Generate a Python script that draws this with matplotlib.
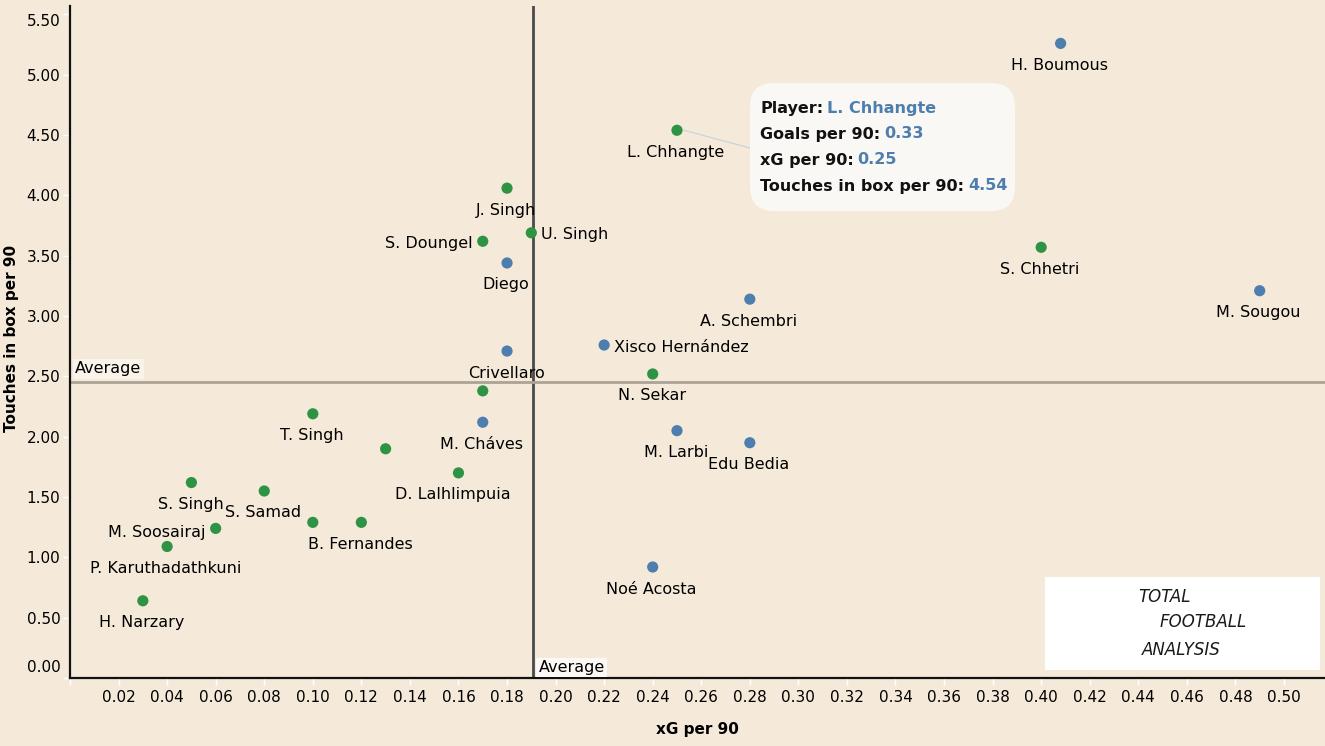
import matplotlib
matplotlib.use("Agg")
import matplotlib.pyplot as plt
from matplotlib.patches import FancyBboxPatch, Rectangle
from matplotlib.transforms import ScaledTranslation

# ---------------- data ----------------
players = ["H. Boumous", "L. Chhangte", "J. Singh", "U. Singh", "S. Doungel", "Diego",
           "S. Chhetri", "M. Sougou", "A. Schembri", "Xisco Hernández", "Crivellaro",
           "N. Sekar", "", "T. Singh", "M. Cháves", "", "D. Lalhlimpuia", "M. Larbi",
           "Edu Bedia", "S. Singh", "S. Samad", "M. Soosairaj", "", "B. Fernandes",
           "P. Karuthadathkuni", "H. Narzary", "Noé Acosta"]
xg_per90 = [0.408, 0.25, 0.18, 0.19, 0.17, 0.18,
            0.40, 0.49, 0.28, 0.22, 0.18,
            0.24, 0.17, 0.10, 0.17, 0.13, 0.16, 0.25,
            0.28, 0.05, 0.08, 0.06, 0.10, 0.12,
            0.04, 0.03, 0.24]
touches_per90 = [5.26, 4.54, 4.06, 3.69, 3.62, 3.44,
                 3.57, 3.21, 3.14, 2.76, 2.71,
                 2.52, 2.38, 2.19, 2.12, 1.90, 1.70, 2.05,
                 1.95, 1.62, 1.55, 1.24, 1.29, 1.29,
                 1.09, 0.64, 0.92]
group = ["B", "G", "G", "G", "G", "B",
         "G", "B", "B", "B", "B",
         "G", "G", "G", "B", "G", "G", "B",
         "B", "G", "G", "G", "G", "G",
         "G", "G", "B"]

avg_xg = 0.1905
avg_touches = 2.45

x_ticks = [round(0.02 * i, 2) for i in range(26)]
y_ticks = [0.5 * i for i in range(12)]

tooltip_player = "L. Chhangte"
tooltip_goals = "0.33"
tooltip_xg = "0.25"
tooltip_touches = "4.54"

# ---------------- style ----------------
BG = "#F5EADA"
colors = {"B": "#4E7EAE", "G": "#2E9444"}
W, H = 1325, 746
fig = plt.figure(figsize=(W / 100, H / 100), dpi=100, facecolor=BG)
ax = fig.add_axes([70 / W, 68 / H, (W - 70) / W, (678 - 6) / H])
ax.set_facecolor(BG)
ax.set_xlim(0, 0.5169)
ax.set_ylim(0, 5.57)

for s in ["top", "right"]:
    ax.spines[s].set_visible(False)
for s in ["left", "bottom"]:
    ax.spines[s].set_color("#111111")
    ax.spines[s].set_linewidth(1.6)

ax.set_xticks(x_ticks)
ax.set_xticklabels(["" if v == 0 else f"{v:.2f}" for v in x_ticks], fontsize=11)
ax.set_yticks(y_ticks)
ax.set_yticklabels([f"{v:.2f}" for v in y_ticks], fontsize=11)
ax.tick_params(axis="both", length=5, width=1, color="#FFFFFF")
ax.tick_params(axis="x", pad=4)
ax.tick_params(axis="y", pad=2)
# shift end labels inward like the original
yt = ax.yaxis.get_major_ticks()
yt[0].label1.set_transform(yt[0].label1.get_transform() + ScaledTranslation(0, 12.5 / 100, fig.dpi_scale_trans))
yt[-1].label1.set_transform(yt[-1].label1.get_transform() + ScaledTranslation(0, -6 / 100, fig.dpi_scale_trans))

ax.set_xlabel("xG per 90", fontsize=11, fontweight="bold")
ax.set_ylabel("Touches in box per 90", fontsize=11, fontweight="bold")
ax.xaxis.set_label_coords(0.5, -(722 - 678) / 672)
ax.yaxis.set_label_coords(-(70 - 19) / 1255, (678 - 338) / 672)

# average lines
ax.axvline(avg_xg, color="#4A4A4A", lw=2, zorder=1)
ax.axhline(avg_touches, color="#ABA396", lw=2, zorder=1)
ax.annotate("Average", xy=(0, avg_touches), xycoords="data", xytext=(5, 6),
            textcoords="offset pixels", fontsize=11.5, va="bottom", ha="left",
            bbox=dict(boxstyle="square,pad=0.15", fc="#FAF3EA", ec="none"))
ax.annotate("Average", xy=(avg_xg, 0), xycoords="data", xytext=(6, 3),
            textcoords="offset pixels", fontsize=11.5, va="bottom", ha="left",
            bbox=dict(boxstyle="square,pad=0.15", fc="#FCF9F4", ec="none"))

# points
ax.scatter(xg_per90, touches_per90, s=65, c=[colors[g] for g in group],
           edgecolors="none", zorder=3)

# labels
label_place = {"U. Singh": ("right", 10, 0), "Xisco Hernández": ("right", 10, 0),
               "S. Doungel": ("left", -10, 0), "M. Soosairaj": ("left", -10, -2),
               "D. Lalhlimpuia": ("below", -6, 0)}
for name, x, y in zip(players, xg_per90, touches_per90):
    if not name:
        continue
    kind, dx, dy = label_place.get(name, ("below", -1, 0))
    if kind == "below":
        ax.annotate(name, (x, y), xytext=(dx, -22 + dy), textcoords="offset pixels",
                    ha="center", va="center", fontsize=11.5, zorder=4)
    elif kind == "right":
        ax.annotate(name, (x, y), xytext=(dx, -2 + dy), textcoords="offset pixels",
                    ha="left", va="center", fontsize=11.5, zorder=4)
    else:
        ax.annotate(name, (x, y), xytext=(dx, -2 + dy), textcoords="offset pixels",
                    ha="right", va="center", fontsize=11.5, zorder=4)

# tooltip
i = players.index(tooltip_player)
px, py = ax.transData.transform((xg_per90[i], touches_per90[i]))
fig.add_artist(plt.Line2D([(px + 7) / W, 750 / W], [py / H, (H - 148) / H],
                          transform=fig.transFigure, color="#C9D3DA", lw=0.9))
box = FancyBboxPatch((750 / W, (H - 211) / H), 265 / W, 128 / H,
                     boxstyle="round,pad=0,rounding_size=0.018",
                     transform=fig.transFigure, fc="#FAF8F5", ec="none",
                     mutation_aspect=W / H, zorder=5)
fig.add_artist(box)
lines = [("Player:", tooltip_player), ("Goals per 90:", tooltip_goals),
         ("xG per 90:", tooltip_xg), ("Touches in box per 90:", tooltip_touches)]
for k, (lab, val) in enumerate(lines):
    yy = (H - (108 + 26 * k)) / H
    t = fig.text(760 / W, yy, lab, fontsize=11.5, fontweight="bold", color="#111111",
                 va="center", ha="left", zorder=6)
    fig.add_artist(plt.Annotation(val, xy=(1, 0), xycoords=t, xytext=(4, 0),
                                  textcoords="offset pixels", fontsize=11.5,
                                  fontweight="bold", color="#4E7EAE",
                                  va="bottom", ha="left", zorder=6))

# logo
fig.add_artist(Rectangle((1045 / W, (H - 670) / H), 275 / W, 93 / H,
                         transform=fig.transFigure, fc="white", ec="none", zorder=5))
for txt, xx, yy in [("TOTAL", 1138, 597), ("FOOTBALL", 1160, 622), ("ANALYSIS", 1142, 650)]:
    fig.text(xx / W, (H - yy) / H, txt, fontsize=12, family="DejaVu Sans",
             fontweight="light", color="#1a1a1a", ha="left", va="center",
             style="italic", zorder=6)

fig.savefig("out.png", dpi=100, facecolor=BG)
